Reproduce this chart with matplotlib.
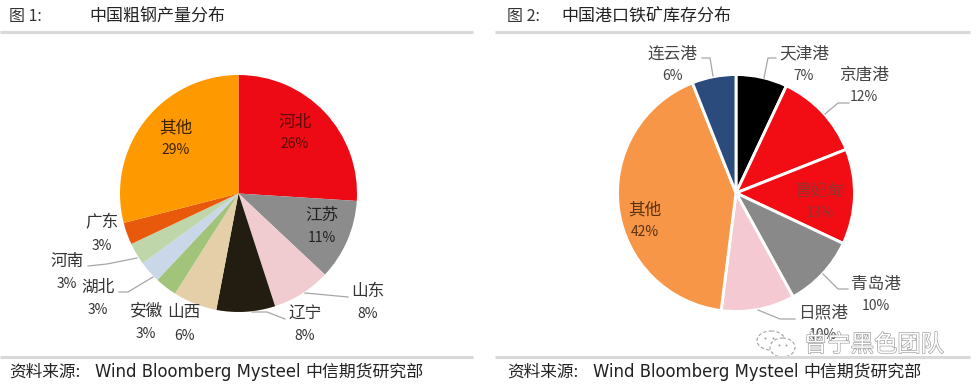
import matplotlib
matplotlib.use('Agg')
import matplotlib.pyplot as plt
from matplotlib.patches import Ellipse
import matplotlib.patheffects as pe

plt.rcParams['font.family'] = ['Noto Sans CJK SC', 'DejaVu Sans']

# 图 1
steel_names = ['河北', '江苏', '山东', '辽宁', '山西', '安徽', '湖北', '河南', '广东', '其他']
steel_values = [26, 11, 8, 8, 6, 3, 3, 3, 3, 29]
steel_colors = ['#EE0A14', '#8C8C8C', '#F0CCD0', '#231C10', '#E5CFA8',
                '#A2C37A', '#CAD7E8', '#BFD6AB', '#E8590C', '#FF9900']

# 图 2
port_names = ['天津港', '京唐港', '曹妃甸', '青岛港', '日照港', '其他', '连云港']
port_values = [7, 12, 13, 10, 10, 42, 6]
port_colors = ['#000000', '#F20C14', '#F20C14', '#898989', '#F4C9D2', '#F79646', '#2A4B7C']

W, H = 980, 386
fig = plt.figure(figsize=(W / 100, H / 100), dpi=100, facecolor='white')


def pie_axes(cx, cy, r):
    ax = fig.add_axes([(cx - r) / W, 1 - (cy + r) / H, 2 * r / W, 2 * r / H])
    return ax


ax1 = pie_axes(238.5, 193.5, 118.5)
ax1.pie(steel_values, colors=steel_colors, startangle=90, counterclock=False, radius=1)
ax1.set_xlim(-1, 1)
ax1.set_ylim(-1, 1)

ax2 = pie_axes(736, 193, 118.5)
ax2.pie(port_values, colors=port_colors, startangle=90, counterclock=False, radius=1,
        wedgeprops={'edgecolor': 'white', 'linewidth': 2.1})
ax2.set_xlim(-1, 1)
ax2.set_ylim(-1, 1)

# overlay in pixel coordinates for text and rules
ov = fig.add_axes([0, 0, 1, 1], facecolor='none')
ov.set_xlim(0, W)
ov.set_ylim(H, 0)
ov.axis('off')

for x0, x1 in [(0, 473), (495, 970)]:
    ov.plot([x0, x1], [32, 32], color='#D9D9D9', lw=2.2, solid_capstyle='butt')
    ov.plot([x0, x1], [357, 357], color='#D9D9D9', lw=2.2, solid_capstyle='butt')

ov.text(9, 17, '图 1:', fontsize=11.5, color='#333333', va='center')
ov.text(89, 17, '中国粗钢产量分布', fontsize=12.24, color='#222222', va='center')
ov.text(507, 17, '图 2:', fontsize=11.5, color='#333333', va='center')
ov.text(561, 17, '中国港口铁矿库存分布', fontsize=12.24, color='#222222', va='center')

source = '资料来源:'
source2 = 'Wind Bloomberg Mysteel'
source3 = '中信期货研究部'
for dx in [0, 498]:
    ov.text(9 + dx, 372, source, fontsize=12, color='#222222', va='center')
    ov.text(95 + dx, 372, source2, fontsize=11.9, color='#222222', va='center',
            family='DejaVu Sans')
    ov.text(305.5 + dx, 372, source3, fontsize=12.2, color='#222222', va='center')

steel_pos = [(295, 122), (322, 215), (368, 291), (305, 313), (184, 313),
             (146, 311), (98, 287), (67, 261), (102, 223), (176, 128)]
steel_text = ['#5A0A0A', '#222222', '#333333', '#333333', '#333333',
              '#333333', '#333333', '#333333', '#333333', '#3A2200']
for n, v, (x, y), c in zip(steel_names, steel_values, steel_pos, steel_text):
    ov.text(x, y, n, fontsize=12, color=c, ha='center', va='center')
    ov.text(x, y + 22.5, f'{v}%', fontsize=10, color=c, ha='center', va='center')

port_pos = [(804, 54), (864, 75), (820, 191), (876, 284), (823, 313), (645, 210), (672, 54)]
port_text = ['#444444', '#444444', '#9A3030', '#444444', '#444444', '#5A3210', '#444444']
for n, v, (x, y), c in zip(port_names, port_values, port_pos, port_text):
    ov.text(x, y, n, fontsize=12, color=c, ha='center', va='center')
    ov.text(x, y + 22, f'{v}%', fontsize=10, color=c, ha='center', va='center')

leaders = [
    [(88, 266), (107, 264), (137, 258)],
    [(119, 292), (128, 292), (153, 277)],
    [(252, 312), (267, 312), (285, 319)],
    [(305, 293), (348, 297)],
    [(702, 58), (710, 58), (713, 76)],
    [(776, 58), (768, 58), (764, 78)],
    [(849, 103), (838, 103), (825, 114)],
    [(823, 274), (838, 289), (848, 289)],
    [(758, 310), (780, 319), (795, 319)],
]
for pts in leaders:
    ov.plot([p[0] for p in pts], [p[1] for p in pts], color='#A6A6A6', lw=0.9)

# watermark
stroke = [pe.withStroke(linewidth=0.9, foreground='#999999')]
ov.text(804, 345, '曾宁黑色团队', fontsize=16.8, color='white', va='center', path_effects=stroke)
ov.add_patch(Ellipse((771, 340.5), 28, 19, fc='white', ec='#A0A0A0', lw=0.8, ls=(0, (3, 2))))
ov.add_patch(Ellipse((782.5, 347.5), 25, 19, fc='white', ec='#A0A0A0', lw=0.8, ls=(0, (3, 2))))
ov.scatter([765, 773, 779, 786], [338, 338, 345, 345], s=2, color='#A0A0A0', linewidths=0)

fig.savefig('out.png', dpi=100, facecolor='white')
